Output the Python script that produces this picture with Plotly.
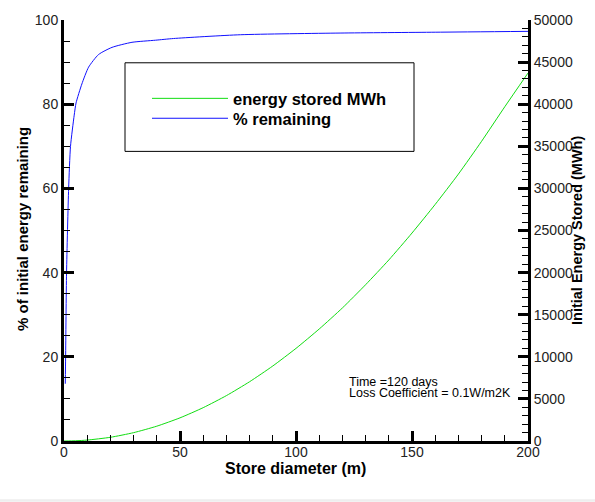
import plotly.graph_objects as go

# Store diameter (m) and initial energy stored (MWh)
diam_energy = [0, 5, 10, 20, 30, 40, 50, 60, 70, 80, 90, 100, 110, 120, 130, 140, 150, 160, 170, 180, 190, 200]
energy_mwh = [0, 28, 110, 440, 990, 1760, 2750, 3960, 5390, 7040, 8910, 11000, 13300, 15800, 18560, 21500, 24700, 28100, 31700, 35600, 39700, 43700]

# Store diameter (m) and % of initial energy remaining
diam_pct = [0.55, 0.7, 1.1, 2.0, 2.8, 4.4, 5.2, 7.7, 10.6, 14.9, 20.7, 29.3, 39.4, 47.2, 76, 119, 160, 200]
pct_remaining = [13.6, 20, 40, 60, 70, 77.4, 80.3, 84.8, 88.8, 91.8, 93.5, 94.7, 95.2, 95.6, 96.5, 96.9, 97.1, 97.3]

FONT = "Arial, Liberation Sans, sans-serif"
W, H = 595, 502
L, R, T, B = 64, 67, 18, 61
PW, PH = W - L - R, H - T - B


def px(x):
    return (x - L) / PW


def py(y):
    return (H - B - y) / PH


fig = go.Figure()
fig.add_trace(go.Scatter(x=diam_energy, y=energy_mwh, mode="lines", name="energy stored MWh",
                         line=dict(color="#11dd11", width=1, shape="spline", smoothing=0.6),
                         yaxis="y2", legend="legend"))
fig.add_trace(go.Scatter(x=diam_pct, y=pct_remaining, mode="lines", name="% remaining",
                         line=dict(color="#1010ff", width=1, shape="spline", smoothing=0.6),
                         legend="legend2"))

axis_common = dict(showline=True, linecolor="black", linewidth=3, ticks="inside",
                   ticklen=10, tickwidth=2.5, tickcolor="black", showgrid=False, zeroline=False,
                   tickfont=dict(family=FONT, size=14, color="#222"))

legend_common = dict(xanchor="left", yanchor="middle", bgcolor="rgba(0,0,0,0)",
                     borderwidth=0, itemwidth=76, tracegroupgap=0,
                     font=dict(family=FONT, size=16.5, color="black", weight="bold"))

fig.update_layout(
    width=W, height=H,
    margin=dict(l=L, r=R, t=T, b=B),
    paper_bgcolor="white", plot_bgcolor="white",
    showlegend=True,
    legend=dict(x=px(147), y=py(97), **legend_common),
    legend2=dict(x=px(147), y=py(117), **legend_common),
    xaxis=dict(range=[0, 200], dtick=50, tick0=0, ticklabelstandoff=-4,
               minor=dict(ticks="inside", ticklen=6, tickwidth=1.2, tickcolor="black", dtick=10),
               **axis_common),
    yaxis=dict(range=[0, 100], dtick=20, tick0=0,
               minor=dict(ticks="inside", ticklen=6, tickwidth=1.2, tickcolor="black", dtick=5),
               **axis_common),
    yaxis2=dict(range=[0, 50000], dtick=5000, tick0=0, overlaying="y", side="right",
                tickformat="d",
                minor=dict(ticks="inside", ticklen=6, tickwidth=1.2, tickcolor="black", dtick=1000),
                **axis_common),
)

# legend frame
fig.add_shape(type="rect", xref="paper", yref="paper", x0=px(125), x1=px(414), y0=py(150), y1=py(61),
              line=dict(color="black", width=1), fillcolor="rgba(0,0,0,0)", layer="below")
# light strip at bottom of page
fig.add_shape(type="rect", xref="paper", yref="paper", x0=px(0), x1=px(W), y0=py(502), y1=py(499.5),
              line=dict(width=0), fillcolor="#eeeeee")

ann = [
    dict(text="Time =120 days", x=px(347), y=py(382)),
    dict(text="Loss Coefficient = 0.1W/m2K", x=px(347), y=py(393)),
]
for a in ann:
    fig.add_annotation(text=a["text"], x=a["x"], y=a["y"], xref="paper", yref="paper",
                       xanchor="left", yanchor="middle", showarrow=False,
                       font=dict(family=FONT, size=12.5, color="black"))

# axis titles
fig.add_annotation(text="Store diameter (m)", x=px(295.5), y=py(469), xref="paper", yref="paper",
                   showarrow=False, xanchor="center", yanchor="middle",
                   font=dict(family=FONT, size=16, color="black", weight="bold"))
fig.add_annotation(text="% of initial energy remaining", x=px(22), y=py(228), xref="paper", yref="paper",
                   showarrow=False, xanchor="center", yanchor="middle", textangle=-90,
                   font=dict(family=FONT, size=15, color="black", weight="bold"))
fig.add_annotation(text="Initial Energy Stored (MWh)", x=px(577), y=py(230), xref="paper", yref="paper",
                   showarrow=False, xanchor="center", yanchor="middle", textangle=-90,
                   font=dict(family=FONT, size=14.5, color="black", weight="bold"))

fig.write_html("out.html")
